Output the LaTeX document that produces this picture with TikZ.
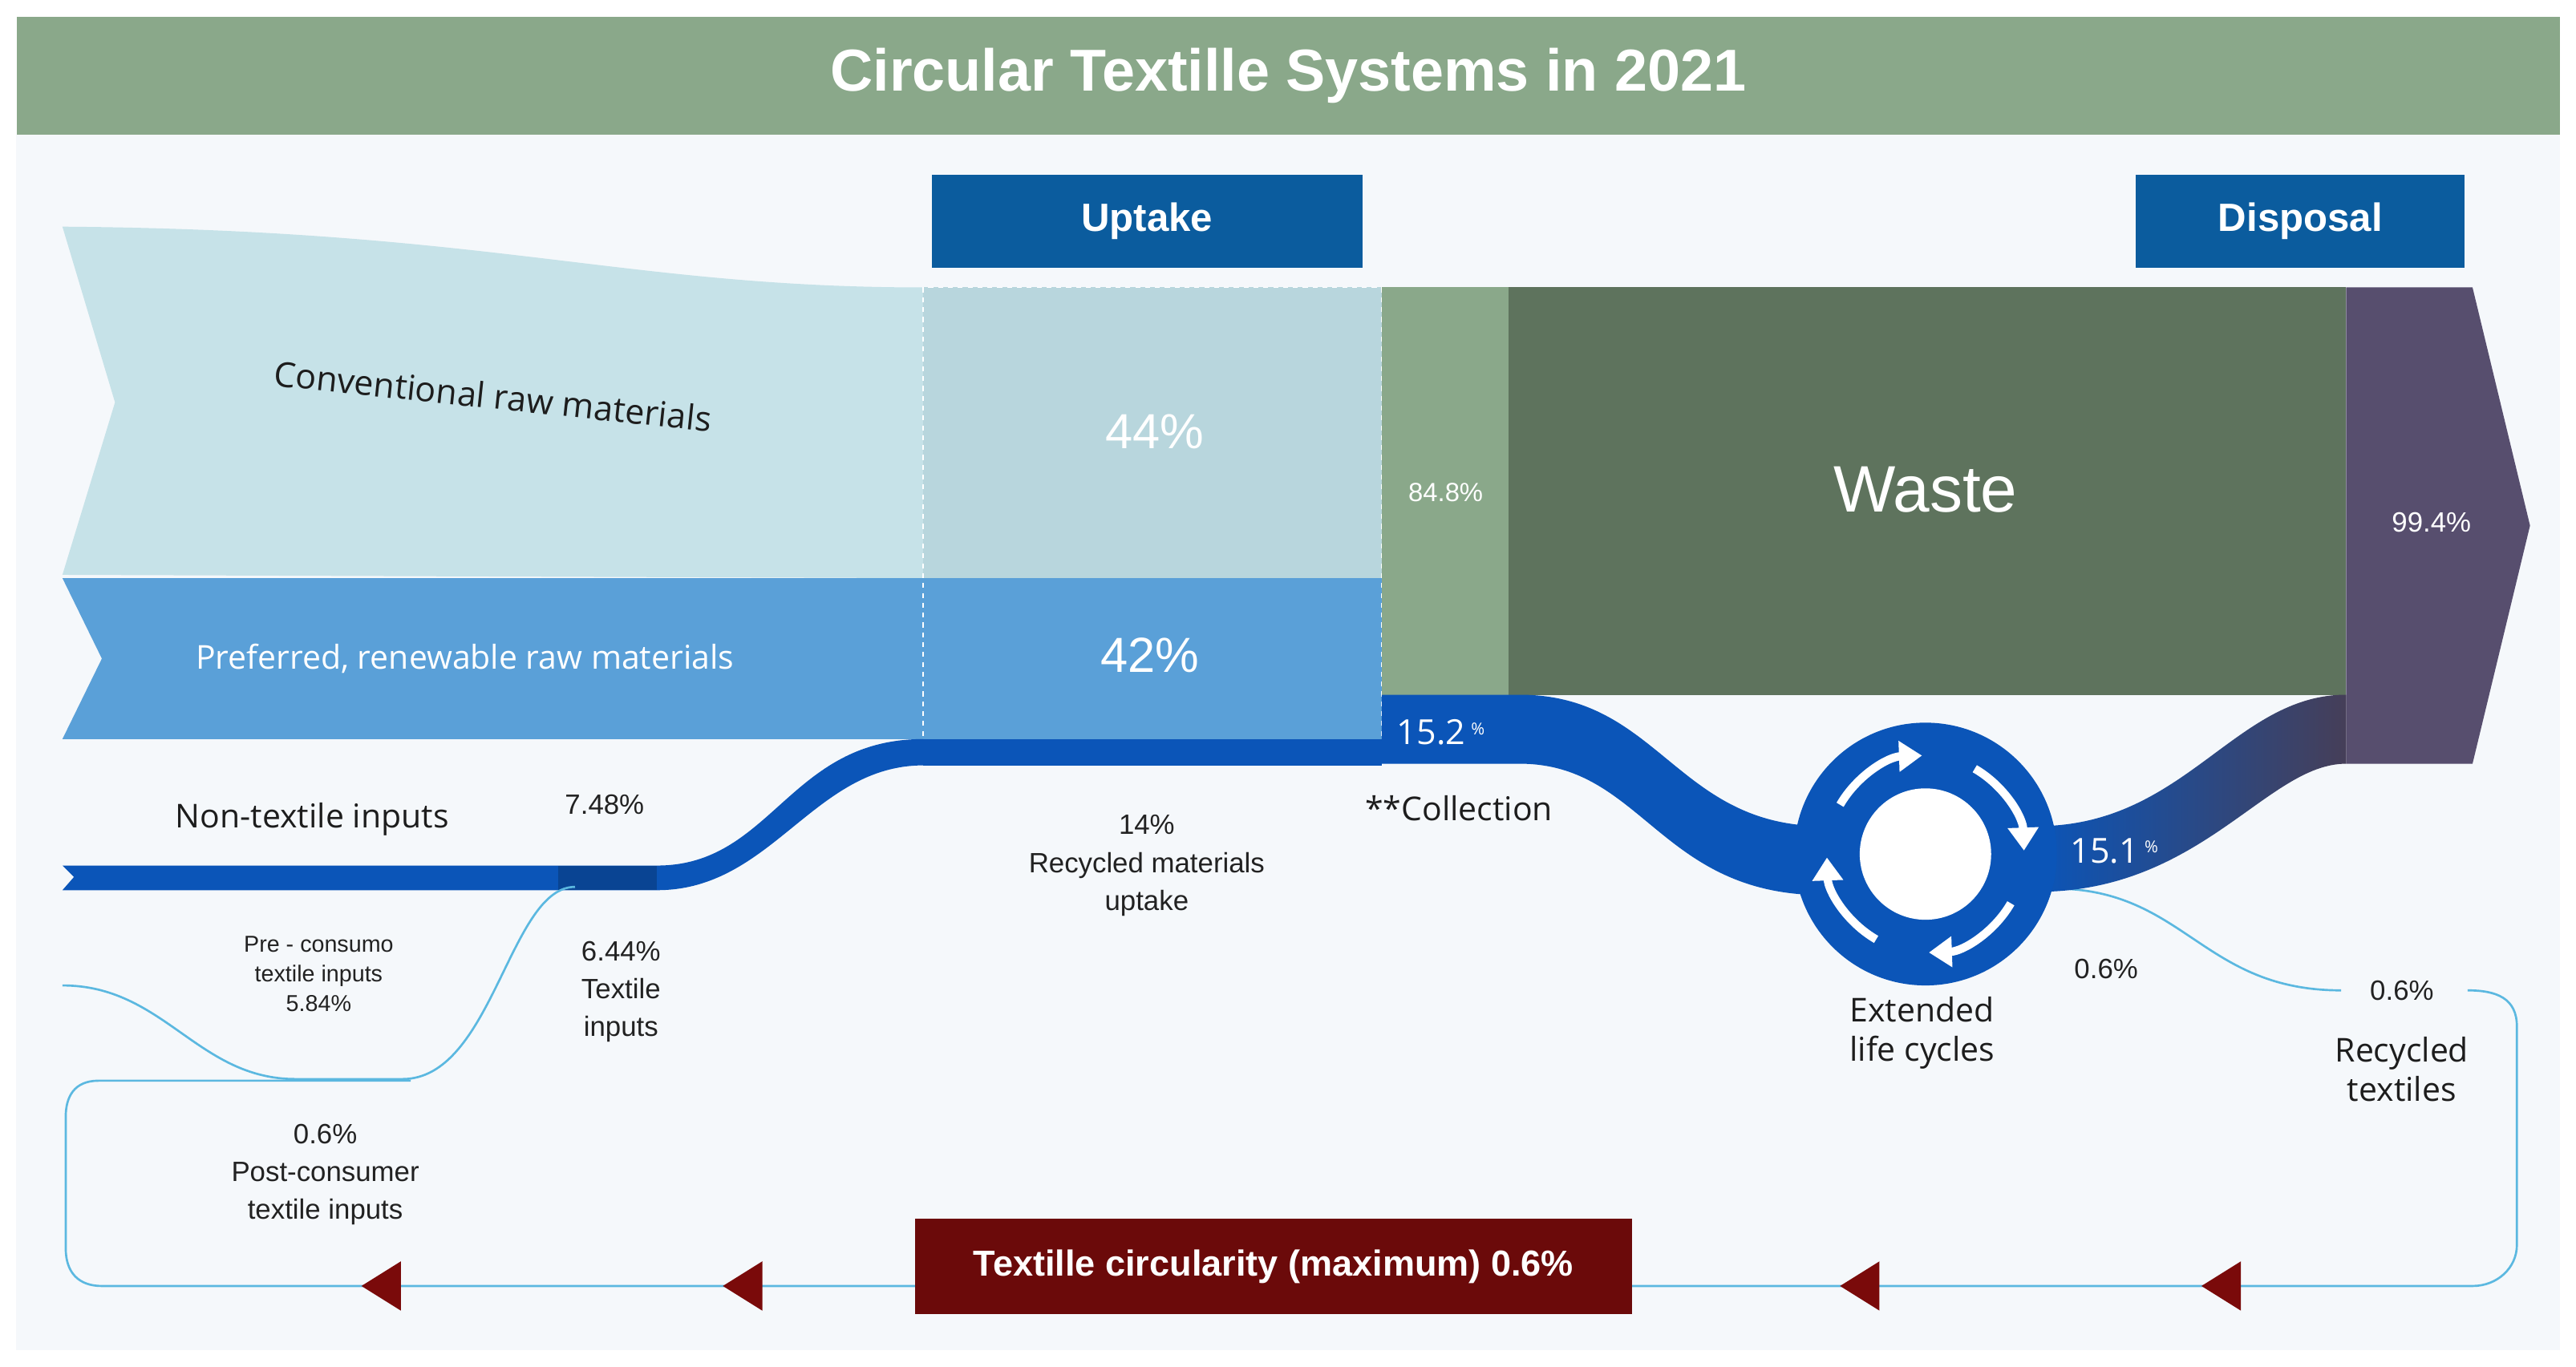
\documentclass[tikz,border=0pt]{standalone}
\usepackage{fontspec}
\setmainfont{Liberation Sans}
\newfontfamily\osans{Open Sans}
\usetikzlibrary{arrows.meta}
\definecolor{titlegreen}{HTML}{8AA88A}
\definecolor{boxblue}{HTML}{0B5C9E}
\definecolor{convc}{HTML}{C6E2E8}
\definecolor{convu}{HTML}{B8D6DD}
\definecolor{prefc}{HTML}{5AA0D8}
\definecolor{dblue}{HTML}{0B55B8}
\definecolor{wastec}{HTML}{5E735D}
\definecolor{purp}{HTML}{574E6E}
\definecolor{darkred}{HTML}{6B0A0A}
\definecolor{tipred}{HTML}{7A0A0A}
\definecolor{thinb}{HTML}{5BB8E0}
\definecolor{bgc}{HTML}{F5F8FB}
\definecolor{txt}{HTML}{222222}
\tikzset{
 lbl/.style={align=center,text=txt,font=\fontsize{17}{21}\selectfont},
 slbl/.style={align=center,text=txt,font=\fontsize{14}{18}\selectfont},
 olbl/.style={align=center,text=txt!85!black,font=\osans\fontsize{20}{24}\selectfont},
 wpct/.style={text=white,font=\fontsize{30}{34}\selectfont},
 hdr/.style={fill=boxblue,text=white,font=\bfseries\fontsize{24}{28}\selectfont,minimum height=57pt,inner sep=0pt},
 thin/.style={draw=thinb,line width=1.3pt},
 tip/.style={fill=tipred},
}
\begin{document}
\begin{tikzpicture}[x=1pt,y=-1pt]
\useasboundingbox (0,0) rectangle (1568,832);
\fill[white] (0,0) rectangle (1568,832);
\fill[bgc] (10,82) rectangle (1558,822);
\node[fill=titlegreen,minimum width=1548pt,minimum height=72pt,inner sep=0pt,anchor=north west,text=white,font=\bfseries\fontsize{36}{42}\selectfont] (title) at (10,10) {Circular Textille Systems in 2021};
\node[hdr,minimum width=262pt,anchor=north west] (uptake) at (567,106) {Uptake};
\node[hdr,minimum width=200pt,anchor=north west] (disposal) at (1300,106) {Disposal};
% conventional band
\fill[convc] (38,138) .. controls (300,140) and (380,175) .. (562,175) -- (562,352) -- (38,350) -- (70,245) -- cycle;
\fill[prefc] (38,352) -- (562,352) -- (562,450) -- (38,450) -- (62,401) -- cycle;
\fill[convu] (562,175) rectangle (841,352);
\fill[prefc] (562,352) rectangle (841,450);
\draw[white,dashed,line width=0.8pt] (562,175) rectangle (841,466);
\fill[dblue] (562,450) rectangle (841,466);
\node[wpct] (p44) at (703,263) {44\%};
\node[wpct] (p42) at (700,399) {42\%};
\node[olbl,rotate=-6,font=\osans\fontsize{21}{24}\selectfont] (conv) at (300,241) {Conventional raw materials};
\node[olbl,text=white] (pref) at (283,401) {Preferred, renewable raw materials};
% non-textile
\fill[dblue] (38,527) -- (400,527) .. controls (470,527) and (480,450) .. (562,450) -- (562,466) .. controls (495,466) and (470,542) .. (400,542) -- (38,542) -- (45,534) -- cycle;
\fill[dblue!80!black] (340,527) -- (400,527) -- (400,542) -- (340,542) -- cycle;
% thin lines
\draw[thin] (38,600) .. controls (100,600) and (120,657) .. (180,657) -- (245,657) .. controls (300,657) and (310,540) .. (350,540);
\draw[thin] (250,658) -- (60,658) .. controls (45,658) and (40,668) .. (40,680) -- (40,760) .. controls (40,775) and (48,783) .. (62,783) -- (557,783);
\draw[thin] (993,783) -- (1505,783) .. controls (1520,783) and (1532,772) .. (1532,758) -- (1532,625) .. controls (1532,608) and (1520,603) .. (1502,603);
\draw[thin] (1250,541) .. controls (1330,541) and (1340,603) .. (1425,603);
% tips
\foreach \tx in {220,440,1120,1340}
  \fill[tip] (\tx,783) -- (\tx+24,768) -- (\tx+24,798) -- cycle;
\node[fill=darkred,minimum width=436pt,minimum height=58pt,inner sep=0pt,anchor=north west,text=white,font=\bfseries\fontsize{22}{26}\selectfont] (circ) at (557,742) {Textille circularity (maximum) 0.6\%};
% right side
\fill[titlegreen] (841,175) rectangle (918,423);
\fill[wastec] (918,175) rectangle (1428,423);
\fill[purp] (1428,175) -- (1505,175) -- (1540,320) -- (1505,465) -- (1428,465) -- cycle;
\node[text=white,font=\fontsize{16}{20}\selectfont] (p848) at (880,300) {84.8\%};
\node[text=white,font=\fontsize{40}{46}\selectfont] (waste) at (1172,298) {Waste};
\node[text=white,font=\fontsize{17}{20}\selectfont] (p994) at (1480,318) {99.4\%};
\fill[dblue] (841,423) -- (925,423) .. controls (1010,423) and (1020,503) .. (1110,503) -- (1110,545) .. controls (1010,545) and (1000,465) .. (925,465) -- (841,465) -- cycle;
\shade[left color=dblue,right color=purp!80!black] (1240,503) .. controls (1330,503) and (1360,423) .. (1428,423) -- (1428,465) .. controls (1380,465) and (1340,543) .. (1240,543) -- cycle;
\node[text=white,font=\osans\fontsize{21}{24}\selectfont] (p152) at (877,446) {15.2\,\raisebox{6pt}{\fontsize{10}{10}\selectfont\%}};
\node[text=white,font=\osans\fontsize{21}{24}\selectfont] (p151) at (1287,518) {15.1\,\raisebox{6pt}{\fontsize{10}{10}\selectfont\%}};
% circle
\coordinate (cc) at (1172,520);
\fill[dblue] (cc) circle[radius=80];
\fill[white] (cc) circle[radius=40];
\foreach \a in {-150,-60,30,120}
  \draw[white,line width=5pt,-{Triangle[length=14pt,width=18pt]}] (cc) ++(\a:60) arc[start angle=\a,end angle=\a+58,radius=60];
% labels
\node[olbl] (nt) at (190,499) {Non-textile inputs};
\node[lbl] (p748) at (368,490) {7.48\%};
\node[slbl] (pre) at (194,593) {Pre - consumo\\textile inputs\\5.84\%};
\node[lbl] (ti) at (378,604) {6.44\%\\[2pt]Textile\\[2pt]inputs};
\node[lbl] (post) at (198,715) {0.6\%\\[2pt]Post-consumer\\[2pt]textile inputs};
\node[lbl] (rec) at (698,527) {14\%\\[2pt]Recycled materials\\[2pt]uptake};
\node[olbl] (coll) at (888,492) {**Collection};
\node[olbl] (ext) at (1170,629) {Extended\\life cycles};
\node[lbl] (p06a) at (1282,590) {0.6\%};
\node[lbl] (p06b) at (1462,603) {0.6\%};
\node[olbl] (rt) at (1462,651) {Recycled\\textiles};
\end{tikzpicture}
\end{document}
